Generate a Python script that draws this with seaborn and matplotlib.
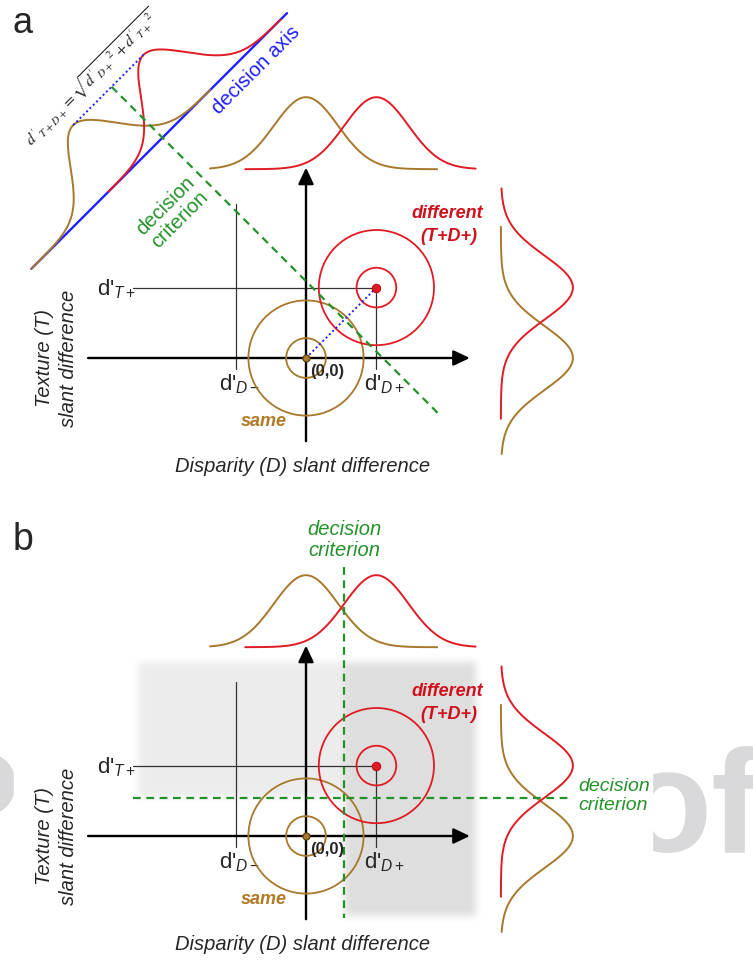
import numpy as np
import matplotlib
matplotlib.use("Agg")
import matplotlib.pyplot as plt
from matplotlib.patches import Circle, Rectangle
import seaborn as sns

# ---------------- model values (in units of one noise s.d.) ----------------
D_PLUS = 2.2          # d'_D+ : mean of the "different" class along disparity
T_PLUS = 2.2          # d'_T+ : mean of the "different" class along texture
D_MINUS = -2.2        # d'_D-
CRITERION = 1.2       # criterion placed on each cue
RING_RADII = [0.62, 1.8]
PEAK = 2.25           # drawn height of the marginal densities
SAME_SPAN = [-3.0, 4.1]       # drawn range of the "same" density around its mean
DIFF_SPAN = [-4.1, 3.1]       # drawn range of the "different" density
SAME_SPAN_DIAG = [-4.1, 3.8]
DIFF_SPAN_DIAG = [-3.8, 3.8]

# ---------------- layout ----------------
W, H = 753, 965
PX = 32.0                       # pixels per unit
ORIGIN_X = 306
PANELS = {"a": (0, 478, 358), "b": (478, 965, 836)}   # rows, origin row
TOP_BASE = 5.9                  # baseline of the top marginal
SIDE_BASE = 6.09                # baseline of the side marginal
AXIS_OFFSET = 8.04              # decision axis distance from the diagonal
AXIS_SPAN = [-4.1, 7.2]

BROWN = "#a8782c"
BROWN_TXT = "#b07a26"
RED = "#e01b24"
RED_TXT = "#d0101c"
BLUE = "#1f1fff"
GREEN = "#24922a"

sns.set_theme(style="white")
plt.rcParams["font.family"] = ["Liberation Sans", "DejaVu Sans"]
plt.rcParams["mathtext.fontset"] = "custom"
plt.rcParams["mathtext.rm"] = "Liberation Sans"
plt.rcParams["mathtext.it"] = "Liberation Sans:italic"
plt.rcParams["mathtext.bf"] = "Liberation Sans:bold"

fig = plt.figure(figsize=(W / 100, H / 100), dpi=100)
fig.patch.set_facecolor("white")

# background layer: faint watermark letters and the white page
ax_bg = fig.add_axes([0, 0, 1, 1])
ax_bg.set_xlim(0, W)
ax_bg.set_ylim(H, 0)
ax_bg.axis("off")
ax_bg.text(19, 852, "P", ha="right", va="baseline", fontsize=105,
           weight="bold", color="#d9d9db", zorder=0)
ax_bg.text(622, 852, "of", ha="left", va="baseline", fontsize=105,
           weight="bold", color="#d9d9db", zorder=0)
ax_bg.add_patch(Rectangle((14, 0), 638, 952, color="white", zorder=1))


def panel_axes(key):
    r0, r1, oy = PANELS[key]
    ax = fig.add_axes([0, (H - r1) / H, 1, (r1 - r0) / H])
    ax.set_xlim((0 - ORIGIN_X) / PX, (W - ORIGIN_X) / PX)
    ax.set_ylim((oy - r1) / PX, (oy - r0) / PX)
    ax.patch.set_visible(False)
    ax.axis("off")
    return ax


def gauss(v, mu):
    return PEAK * np.exp(-0.5 * (v - mu) ** 2)


def arrow(ax, start, tip):
    ax.annotate("", xy=tip, xytext=start,
                arrowprops=dict(arrowstyle="-|>,head_length=0.55,head_width=0.26",
                                lw=1.7, color="black", shrinkA=0, shrinkB=0,
                                mutation_scale=18), zorder=4)


def draw_space(ax):
    # cue axes
    arrow(ax, (-6.81, 0), (5.12, 0))
    arrow(ax, (0, -2.6), (0, 5.95))
    # guide lines marking d' values
    ax.plot([-5.4, D_PLUS], [T_PLUS, T_PLUS], color="#333333", lw=0.9, zorder=3)
    ax.plot([D_PLUS, D_PLUS], [T_PLUS, -0.35], color="#333333", lw=0.9, zorder=3)
    ax.plot([D_MINUS, D_MINUS], [4.8, -0.35], color="#333333", lw=0.9, zorder=3)
    # iso-density rings of the two classes
    for r in RING_RADII:
        ax.add_patch(Circle((0, 0), r, fill=False, ec=BROWN, lw=1.3, zorder=5))
        ax.add_patch(Circle((D_PLUS, T_PLUS), r, fill=False, ec=RED, lw=1.3, zorder=5))
    sns.scatterplot(x=[D_PLUS], y=[T_PLUS], s=38, color=RED, edgecolor="#b00010",
                    linewidth=0.6, ax=ax, zorder=7, legend=False)
    sns.scatterplot(x=[0], y=[0], s=26, color=BROWN, edgecolor="#5a3d10",
                    linewidth=0.8, ax=ax, zorder=7, legend=False)

    # marginal densities: top (disparity) and side (texture)
    xs = np.linspace(SAME_SPAN[0], SAME_SPAN[1], 300)
    sns.lineplot(x=xs, y=TOP_BASE + gauss(xs, 0), color=BROWN, lw=1.4, ax=ax,
                 sort=False, estimator=None, zorder=5)
    xs = np.linspace(D_PLUS + DIFF_SPAN[0], D_PLUS + DIFF_SPAN[1], 300)
    sns.lineplot(x=xs, y=TOP_BASE + gauss(xs, D_PLUS), color=RED, lw=1.4, ax=ax,
                 sort=False, estimator=None, zorder=5)
    ys = np.linspace(SAME_SPAN[0], SAME_SPAN[1], 300)
    sns.lineplot(x=SIDE_BASE + gauss(ys, 0), y=ys, color=BROWN, lw=1.4, ax=ax,
                 sort=False, estimator=None, orient="y", zorder=5)
    ys = np.linspace(T_PLUS + DIFF_SPAN[0], T_PLUS + DIFF_SPAN[1], 300)
    sns.lineplot(x=SIDE_BASE + gauss(ys, T_PLUS), y=ys, color=RED, lw=1.4, ax=ax,
                 sort=False, estimator=None, orient="y", zorder=5)

    # labels
    ax.text(-5.3, T_PLUS - 0.05, "d'$_{T+}$", ha="right", va="center", fontsize=16)
    ax.text(D_MINUS + 0.12, -0.45, "d'$_{D-}$", ha="center", va="top", fontsize=16)
    ax.text(D_PLUS + 0.25, -0.45, "d'$_{D+}$", ha="center", va="top", fontsize=16)
    ax.text(0.66, -0.41, "(0,0)", ha="center", va="center", fontsize=12,
            weight="bold", zorder=8)
    ax.text(-1.31, -1.97, "same", ha="center", va="center", fontsize=13,
            weight="bold", style="italic", color=BROWN_TXT)
    ax.text(4.42, 4.5, "different", ha="center", va="center", fontsize=13,
            weight="bold", style="italic", color=RED_TXT)
    ax.text(4.47, 3.8, "(T+D+)", ha="center", va="center", fontsize=13,
            weight="bold", style="italic", color=RED_TXT)
    ax.text(-7.8, 0.0, "Texture (T)\nslant difference", rotation=90,
            ha="center", va="center", fontsize=14.5, style="italic",
            linespacing=1.3, multialignment="center")
    ax.text(-0.12, -3.4, "Disparity (D) slant difference", ha="center",
            va="center", fontsize=14.5, style="italic")


# ============================ panel a ============================
ax_a = panel_axes("a")
draw_space(ax_a)

u = np.array([1.0, 1.0]) / np.sqrt(2)     # along the diagonal
n = np.array([-1.0, 1.0]) / np.sqrt(2)    # normal, toward upper left
mu_same = 0.0
mu_diff = (D_PLUS + T_PLUS) / np.sqrt(2)

t = np.array(AXIS_SPAN)
axis_pts = np.outer(t, u) + AXIS_OFFSET * n
sns.lineplot(x=axis_pts[:, 0], y=axis_pts[:, 1], color=BLUE, lw=1.7, ax=ax_a,
             sort=False, estimator=None, zorder=4)

for mu, span, col in [(mu_same, SAME_SPAN_DIAG, BROWN), (mu_diff, DIFF_SPAN_DIAG, RED)]:
    t = np.linspace(mu + span[0], mu + span[1], 400)
    pts = np.outer(t, u) + np.outer(AXIS_OFFSET + gauss(t, mu), n)
    sns.lineplot(x=pts[:, 0], y=pts[:, 1], color=col, lw=1.4, ax=ax_a,
                 sort=False, estimator=None, zorder=5)

# distance between the projected means
peaks = np.outer([mu_same, mu_diff], u) + (AXIS_OFFSET + PEAK) * n
ax_a.plot(peaks[:, 0], peaks[:, 1], color=BLUE, lw=1.4, ls=(0, (1, 1.4)), zorder=6)
ax_a.plot([0, D_PLUS], [0, T_PLUS], color=BLUE, lw=1.4, ls=(0, (1, 1.4)), zorder=6)

# criterion perpendicular to the decision axis
tc = 2 * CRITERION / np.sqrt(2)
crit = np.outer([tc, tc], u) + np.outer([AXIS_OFFSET + PEAK, -4.22], n)
ax_a.plot(crit[:, 0], crit[:, 1], color=GREEN, lw=1.6, ls=(0, (3.5, 2.5)), zorder=6)

ax_a.text(-1.55, 9.0, "decision axis", rotation=45, rotation_mode="anchor",
          ha="center", va="center", fontsize=14.5, color=BLUE)
ax_a.text(-4.16, 4.53, "decision\ncriterion", rotation=45, rotation_mode="anchor",
          ha="center", va="center", fontsize=14.5, color=GREEN,
          multialignment="center", linespacing=1.05)
ax_a.text(-6.69, 8.75, r"$d'_{T+D+}=\sqrt{d'_{D+}{}^{2}+d'_{T+}{}^{2}}$",
          rotation=45, rotation_mode="anchor", ha="center", va="center",
          fontsize=11.5, math_fontfamily="stix")

# ============================ panel b ============================
ax_b = panel_axes("b")

# shaded "different" response region (either cue beyond its criterion)
gx = np.linspace(-7, 7, 449)
gy = np.linspace(-4, 7, 353)
GX, GY = np.meshgrid(gx, gy)
inside = (GX > -5.28) & (GX < 5.34) & (GY > -2.53) & (GY < 5.44)
shade = np.zeros_like(GX)
shade[inside & (GY > CRITERION)] = 0.075
shade[inside & (GX > CRITERION)] = 0.13
k = np.ones(9) / 9.0
for _ in range(2):
    shade = np.apply_along_axis(lambda r: np.convolve(np.pad(r, 4, mode="edge"), k, "valid"), 1, shade)
    shade = np.apply_along_axis(lambda c: np.convolve(np.pad(c, 4, mode="edge"), k, "valid"), 0, shade)
rgba = np.zeros(shade.shape + (4,))
rgba[..., 3] = shade
ax_b.imshow(rgba, extent=(-7, 7, -4, 7), origin="lower", aspect="auto",
            interpolation="bilinear", zorder=0)
ax_b.set_xlim((0 - ORIGIN_X) / PX, (W - ORIGIN_X) / PX)
ax_b.set_ylim((PANELS["b"][2] - PANELS["b"][1]) / PX, (PANELS["b"][2] - PANELS["b"][0]) / PX)

draw_space(ax_b)

ax_b.plot([CRITERION, CRITERION], [8.4, -2.56], color=GREEN, lw=1.6,
          ls=(0, (3.5, 2.5)), zorder=6)
ax_b.plot([-5.4, 8.25], [CRITERION, CRITERION], color=GREEN, lw=1.6,
          ls=(0, (3.5, 2.5)), zorder=6)
ax_b.text(CRITERION, 9.25, "decision\ncriterion", ha="center", va="center",
          fontsize=14.5, color=GREEN, style="italic", linespacing=1.15)
ax_b.text(8.5, CRITERION + 0.05, "decision\ncriterion", ha="left", va="center",
          fontsize=14, color=GREEN, style="italic", linespacing=1.15)

# panel letters
fig.text(13 / W, 1 - 33 / H, "a", fontsize=26, va="baseline", ha="left")
fig.text(13 / W, 1 - 550 / H, "b", fontsize=27, va="baseline", ha="left")

fig.savefig("out.png", dpi=100)
